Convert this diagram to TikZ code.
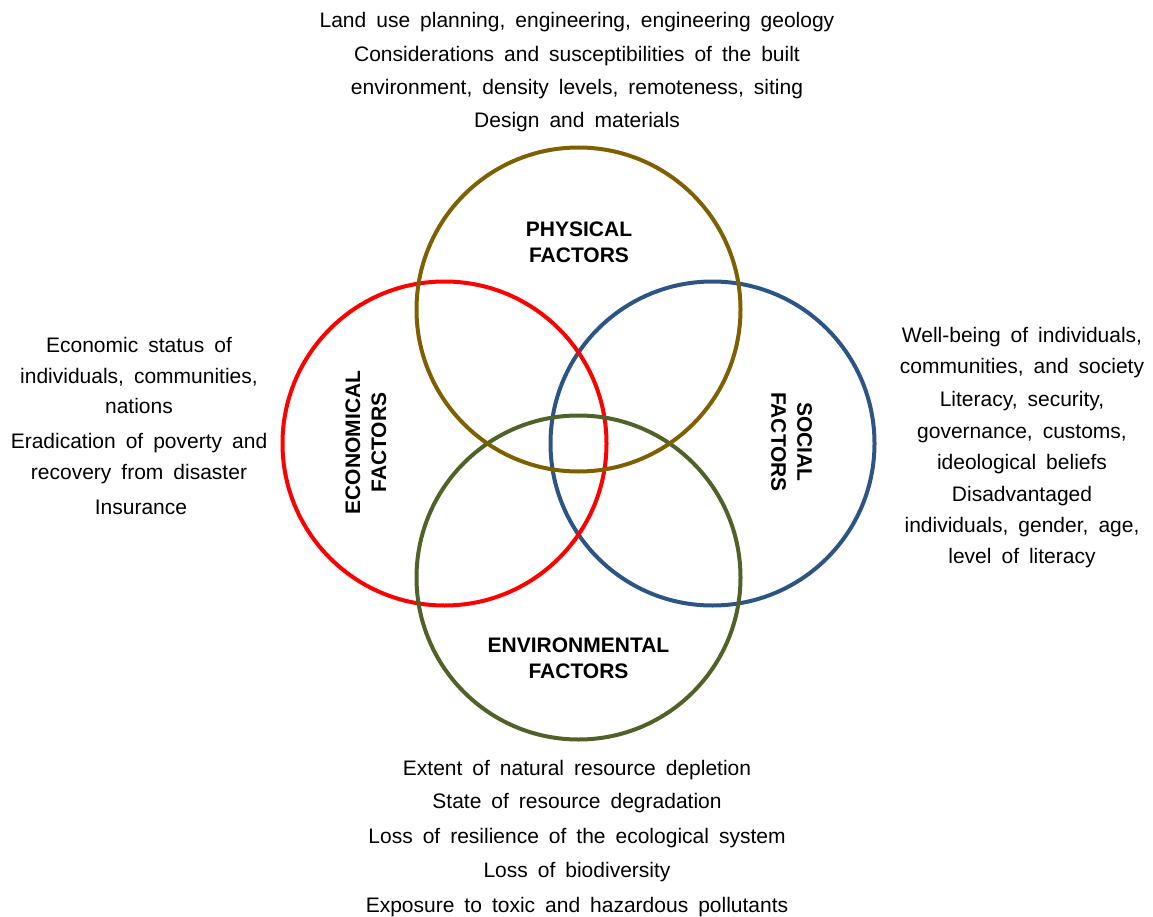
\documentclass[tikz,border=0pt]{standalone}
\usepackage{fontspec}
\setmainfont{Liberation Sans}
\definecolor{physc}{HTML}{7F6000}
\definecolor{econc}{HTML}{FF0000}
\definecolor{socc}{HTML}{2C5585}
\definecolor{envc}{HTML}{4F6228}
\newcommand\mytxtfont{\fontsize{21}{25}\selectfont\spaceskip=10pt plus 2pt minus 2pt\relax}
\tikzset{
  txt/.style={font=\mytxtfont, inner sep=0pt, anchor=base},
  lbl/.style={font=\bfseries\fontsize{21}{26}\selectfont, align=center, inner sep=0pt},
  ring/.style={circle, draw=#1, line width=4pt, minimum size=324pt, inner sep=0pt}
}
\begin{document}
\begin{tikzpicture}[x=1pt,y=-1pt]
\useasboundingbox (0,0) rectangle (1153,917);
% circles
\node[ring=socc] (soc) at (712.5,443.5) {};
\node[ring=econc] (eco) at (444.5,443.5) {};
\node[ring=envc] (env) at (578.5,577.5) {};
\node[ring=physc] (phy) at (578.5,309.5) {};
% circle labels
\node[lbl] (phyl) at (579,242.5) {PHYSICAL\\FACTORS};
\node[lbl] (envl) at (578.5,658) {ENVIRONMENTAL\\FACTORS};
\node[lbl, rotate=90] (ecol) at (366,442.5) {ECONOMICAL\\FACTORS};
\node[lbl, rotate=-90] (socl) at (791.5,442) {SOCIAL\\FACTORS};
% top text
\node[txt] (t1) at (577,28) {Land use planning, engineering, engineering geology};
\node[txt] (t2) at (577,62) {Considerations and susceptibilities of the built};
\node[txt] (t3) at (577,95) {environment, density levels, remoteness, siting};
\node[txt] (t4) at (577,128) {Design and materials};
% left text
\node[txt] (l1) at (139,352) {Economic status of};
\node[txt] (l2) at (139,383) {individuals, communities,};
\node[txt] (l3) at (139,413) {nations};
\node[txt] (l4) at (139,448) {Eradication of poverty and};
\node[txt] (l5) at (139,479) {recovery from disaster};
\node[txt] (l6) at (141,514) {Insurance};
% right text
\node[txt] (r1) at (1022,342) {Well-being of individuals,};
\node[txt] (r2) at (1022,373) {communities, and society};
\node[txt] (r3) at (1022,406) {Literacy, security,};
\node[txt] (r4) at (1022,438) {governance, customs,};
\node[txt] (r5) at (1022,469) {ideological beliefs};
\node[txt] (r6) at (1022,501) {Disadvantaged};
\node[txt] (r7) at (1022,532) {individuals, gender, age,};
\node[txt] (r8) at (1022,563) {level of literacy};
% bottom text
\node[txt] (b1) at (577,775) {Extent of natural resource depletion};
\node[txt] (b2) at (577,808) {State of resource degradation};
\node[txt] (b3) at (577,843) {Loss of resilience of the ecological system};
\node[txt] (b4) at (577,877) {Loss of biodiversity};
\node[txt] (b5) at (577,912) {Exposure to toxic and hazardous pollutants};
\end{tikzpicture}
\end{document}
